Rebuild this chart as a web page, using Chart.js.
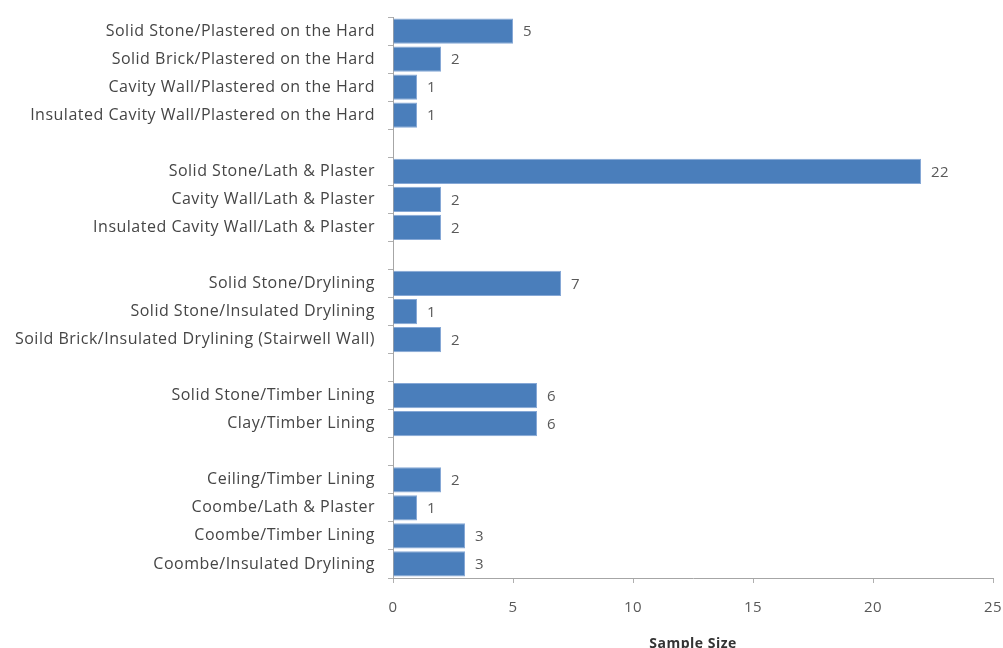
<!DOCTYPE html>
<html>
<head>
<meta charset="utf-8">
<script src="https://cdn.jsdelivr.net/npm/chart.js@4"></script>
<style>
  html, body { margin: 0; padding: 0; background: #fff; }
  #wrap { width: 1003px; height: 648px; }
</style>
</head>
<body>
<div id="wrap"><canvas id="sampleChart"></canvas></div>
<script>
// wall types, grouped; empty strings are the gaps between groups
const wallTypes = [
    'Solid Stone/Plastered on the Hard',
    'Solid Brick/Plastered on the Hard',
    'Cavity Wall/Plastered on the Hard',
    'Insulated Cavity Wall/Plastered on the Hard',
    '',
    'Solid Stone/Lath & Plaster',
    'Cavity Wall/Lath & Plaster',
    'Insulated Cavity Wall/Lath & Plaster',
    '',
    'Solid Stone/Drylining',
    'Solid Stone/Insulated Drylining',
    'Soild Brick/Insulated Drylining (Stairwell Wall)',
    '',
    'Solid Stone/Timber Lining',
    'Clay/Timber Lining',
    '',
    'Ceiling/Timber Lining',
    'Coombe/Lath & Plaster',
    'Coombe/Timber Lining',
    'Coombe/Insulated Drylining'
];
const sampleSizes = [5, 2, 1, 1, null, 22, 2, 2, null, 7, 1, 2, null, 6, 6, null, 2, 1, 3, 3];
const xTicks = [0, 5, 10, 15, 20, 25];

const labelFont = '"Open Sans", Lato, sans-serif';

// a touch of tracking so the labels run as wide as the original Calibri
const tracking = {
    id: 'tracking',
    beforeDraw(chart) {
        chart.ctx.letterSpacing = '0.5px';
    }
};

// writes the count just past the end of each bar
const valueLabels = {
    id: 'valueLabels',
    afterDatasetsDraw(chart) {
        const ctx = chart.ctx;
        const meta = chart.getDatasetMeta(0);
        ctx.save();
        ctx.font = '15px ' + labelFont;
        ctx.fillStyle = '#595959';
        ctx.textAlign = 'left';
        ctx.textBaseline = 'middle';
        meta.data.forEach((bar, i) => {
            const v = sampleSizes[i];
            if (v === null) return;
            ctx.fillText(String(v), bar.x + 10, bar.y + 1);
        });
        ctx.restore();
    }
};

const ctx = document.getElementById('sampleChart').getContext('2d');
const sampleChart = new Chart(ctx, {
    type: 'bar',
    data: {
        labels: wallTypes,
        datasets: [{
            label: 'Sample Size',
            data: sampleSizes,
            backgroundColor: '#4a7ebb',
            borderColor: '#86a8d6',
            borderWidth: 1,
            barPercentage: 0.9,
            categoryPercentage: 1.0
        }]
    },
    options: {
        indexAxis: 'y',
        responsive: true,
        maintainAspectRatio: false,
        animation: false,
        layout: { padding: { top: 17, right: 10, bottom: 0, left: 0 } },
        plugins: {
            legend: { display: false },
            tooltip: { enabled: false }
        },
        scales: {
            x: {
                min: 0,
                max: 25,
                afterBuildTicks(scale) {
                    scale.ticks = xTicks.map(v => ({ value: v }));
                },
                afterFit(scale) {
                    scale.height = 70;
                    scale.paddingLeft = 0;
                    scale.paddingRight = 0;
                },
                grid: { drawOnChartArea: false, color: '#b0b0b0', tickLength: 5 },
                border: { color: '#a6a6a6' },
                ticks: {
                    color: '#595959',
                    padding: 16,
                    font: { family: labelFont, size: 15 }
                },
                title: {
                    display: true,
                    text: 'Sample Size',
                    color: '#333333',
                    padding: { top: 4, bottom: -4 },
                    font: { family: labelFont, size: 14, weight: 'bold' }
                }
            },
            y: {
                afterFit(scale) {
                    scale.width = 393;
                    scale.paddingTop = 0;
                    scale.paddingBottom = 0;
                },
                grid: { drawOnChartArea: false, offset: true, color: '#b0b0b0', tickLength: 5 },
                border: { color: '#a6a6a6' },
                ticks: {
                    color: '#454545',
                    padding: 13,
                    autoSkip: false,
                    font: { family: labelFont, size: 16 }
                }
            }
        }
    },
    plugins: [tracking, valueLabels]
});
</script>
</body>
</html>
